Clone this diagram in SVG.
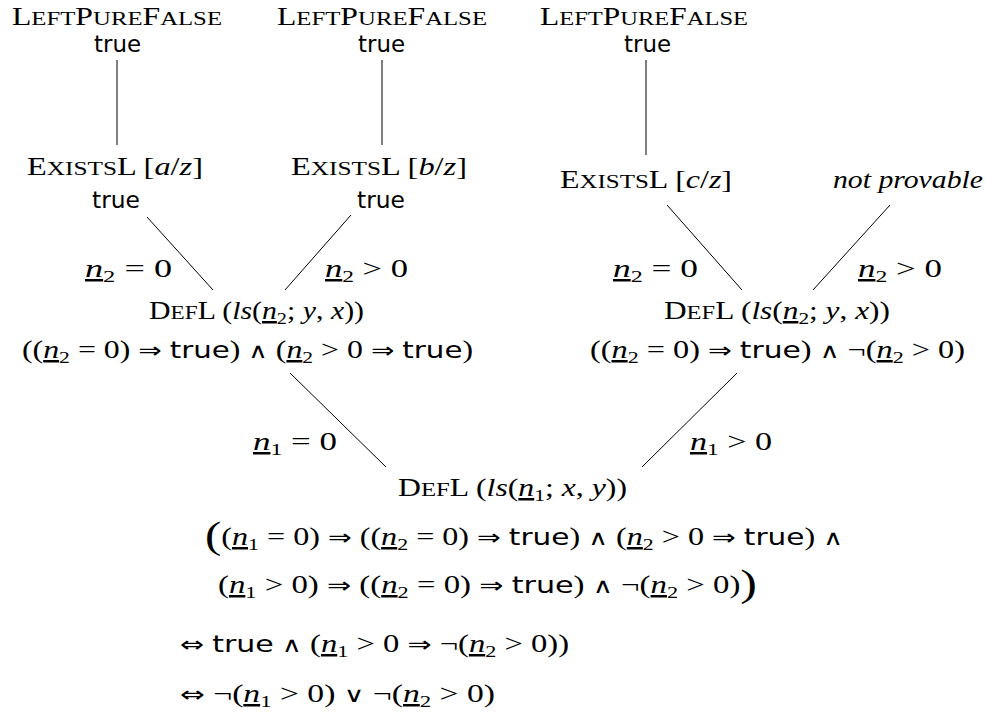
<svg xmlns="http://www.w3.org/2000/svg" width="987" height="717" viewBox="0 0 987 717">
<style>
text{font-family:"Liberation Serif","DejaVu Serif",serif;font-size:25px;fill:#000}
.sc{font-size:19.5px}
.i{font-style:italic}
.sf{font-family:"DejaVu Sans",sans-serif;font-size:23px}
.o{font-family:"DejaVu Sans",sans-serif;font-size:22px}
.w{font-family:"DejaVu Sans",sans-serif;font-size:21px}
.u{text-decoration:underline}
.sub{font-size:17px}
.big{font-size:38px}
.np{font-style:italic;font-size:25px}
.edge line{stroke:#000;stroke-width:1}
</style>
<rect width="987" height="717" fill="#fff"/>
<g class="edge" id="connectors">
<line x1="117" y1="60" x2="117" y2="145"/>
<line x1="382" y1="60" x2="382" y2="145"/>
<line x1="646" y1="60" x2="646" y2="155"/>
<line x1="147" y1="217" x2="213" y2="290"/>
<line x1="351" y1="215" x2="285" y2="290"/>
<line x1="667" y1="205" x2="742" y2="290"/>
<line x1="890" y1="205" x2="813" y2="290"/>
<line x1="290" y1="373" x2="386" y2="467"/>
<line x1="737" y1="373" x2="642" y2="467"/>
</g>
<g id="edge-labels">
<text x="85" y="277" textLength="87" lengthAdjust="spacingAndGlyphs"><tspan class="i u">n</tspan><tspan class="sub" dy="5">2</tspan><tspan dy="-5"> = 0</tspan></text>
<text x="325" y="277" textLength="83" lengthAdjust="spacingAndGlyphs"><tspan class="i u">n</tspan><tspan class="sub" dy="5">2</tspan><tspan dy="-5"> &gt; 0</tspan></text>
<text x="613" y="277" textLength="85" lengthAdjust="spacingAndGlyphs"><tspan class="i u">n</tspan><tspan class="sub" dy="5">2</tspan><tspan dy="-5"> = 0</tspan></text>
<text x="858" y="277" textLength="84" lengthAdjust="spacingAndGlyphs"><tspan class="i u">n</tspan><tspan class="sub" dy="5">2</tspan><tspan dy="-5"> &gt; 0</tspan></text>
<text x="253" y="450" textLength="84" lengthAdjust="spacingAndGlyphs"><tspan class="i u">n</tspan><tspan class="sub" dy="5">1</tspan><tspan dy="-5"> = 0</tspan></text>
<text x="690" y="450" textLength="82" lengthAdjust="spacingAndGlyphs"><tspan class="i u">n</tspan><tspan class="sub" dy="5">1</tspan><tspan dy="-5"> &gt; 0</tspan></text>
</g>
<g id="lpf1">
<text x="12" y="25" textLength="210" lengthAdjust="spacingAndGlyphs">L<tspan class="sc">EFT</tspan>P<tspan class="sc">URE</tspan>F<tspan class="sc">ALSE</tspan></text>
<text class="sf" x="94" y="52" textLength="47" lengthAdjust="spacingAndGlyphs">true</text>
</g>
<g id="lpf2">
<text x="277" y="25" textLength="210" lengthAdjust="spacingAndGlyphs">L<tspan class="sc">EFT</tspan>P<tspan class="sc">URE</tspan>F<tspan class="sc">ALSE</tspan></text>
<text class="sf" x="358" y="52" textLength="47" lengthAdjust="spacingAndGlyphs">true</text>
</g>
<g id="lpf3">
<text x="540" y="25" textLength="208" lengthAdjust="spacingAndGlyphs">L<tspan class="sc">EFT</tspan>P<tspan class="sc">URE</tspan>F<tspan class="sc">ALSE</tspan></text>
<text class="sf" x="624" y="52" textLength="47" lengthAdjust="spacingAndGlyphs">true</text>
</g>
<g id="ex1">
<text x="27" y="175" textLength="176" lengthAdjust="spacingAndGlyphs">E<tspan class="sc">XISTS</tspan>L [<tspan class="i">a</tspan>/<tspan class="i">z</tspan>]</text>
<text class="sf" x="92" y="208" textLength="48" lengthAdjust="spacingAndGlyphs">true</text>
</g>
<g id="ex2">
<text x="291" y="175" textLength="176" lengthAdjust="spacingAndGlyphs">E<tspan class="sc">XISTS</tspan>L [<tspan class="i">b</tspan>/<tspan class="i">z</tspan>]</text>
<text class="sf" x="357" y="208" textLength="48" lengthAdjust="spacingAndGlyphs">true</text>
</g>
<g id="ex3">
<text x="560" y="188" textLength="172" lengthAdjust="spacingAndGlyphs">E<tspan class="sc">XISTS</tspan>L [<tspan class="i">c</tspan>/<tspan class="i">z</tspan>]</text>
</g>
<g id="np">
<text class="np" x="833" y="188" textLength="150" lengthAdjust="spacingAndGlyphs">not provable</text>
</g>
<g id="def1">
<text x="149" y="319" textLength="215" lengthAdjust="spacingAndGlyphs">D<tspan class="sc">EF</tspan>L (<tspan class="i">ls</tspan>(<tspan class="i u">n</tspan><tspan class="sub" dy="5">2</tspan><tspan dy="-5">; </tspan><tspan class="i">y</tspan>, <tspan class="i">x</tspan>))</text>
<text x="22" y="358" textLength="451" lengthAdjust="spacingAndGlyphs">((<tspan class="i u">n</tspan><tspan class="sub" dy="5">2</tspan><tspan dy="-5"> = 0) </tspan><tspan class="o">⇒</tspan> <tspan class="sf">true</tspan>) <tspan class="w">∧</tspan> (<tspan class="i u">n</tspan><tspan class="sub" dy="5">2</tspan><tspan dy="-5"> &gt; 0 </tspan><tspan class="o">⇒</tspan> <tspan class="sf">true</tspan>)</text>
</g>
<g id="def2">
<text x="664" y="319" textLength="226" lengthAdjust="spacingAndGlyphs">D<tspan class="sc">EF</tspan>L (<tspan class="i">ls</tspan>(<tspan class="i u">n</tspan><tspan class="sub" dy="5">2</tspan><tspan dy="-5">; </tspan><tspan class="i">y</tspan>, <tspan class="i">x</tspan>))</text>
<text x="590" y="358" textLength="375" lengthAdjust="spacingAndGlyphs">((<tspan class="i u">n</tspan><tspan class="sub" dy="5">2</tspan><tspan dy="-5"> = 0) </tspan><tspan class="o">⇒</tspan> <tspan class="sf">true</tspan>) <tspan class="w">∧</tspan> ¬(<tspan class="i u">n</tspan><tspan class="sub" dy="5">2</tspan><tspan dy="-5"> &gt; 0)</tspan></text>
</g>
<g id="def0">
<text x="398" y="496" textLength="229" lengthAdjust="spacingAndGlyphs">D<tspan class="sc">EF</tspan>L (<tspan class="i">ls</tspan>(<tspan class="i u">n</tspan><tspan class="sub" dy="5">1</tspan><tspan dy="-5">; </tspan><tspan class="i">x</tspan>, <tspan class="i">y</tspan>))</text>
<text x="205" y="545" textLength="638" lengthAdjust="spacingAndGlyphs"><tspan class="big" dy="3">(</tspan><tspan dy="-3">(</tspan><tspan class="i u">n</tspan><tspan class="sub" dy="5">1</tspan><tspan dy="-5"> = 0) </tspan><tspan class="o">⇒</tspan> ((<tspan class="i u">n</tspan><tspan class="sub" dy="5">2</tspan><tspan dy="-5"> = 0) </tspan><tspan class="o">⇒</tspan> <tspan class="sf">true</tspan>) <tspan class="w">∧</tspan> (<tspan class="i u">n</tspan><tspan class="sub" dy="5">2</tspan><tspan dy="-5"> &gt; 0 </tspan><tspan class="o">⇒</tspan> <tspan class="sf">true</tspan>) <tspan class="w">∧</tspan></text>
<text x="218" y="593" textLength="539" lengthAdjust="spacingAndGlyphs">(<tspan class="i u">n</tspan><tspan class="sub" dy="5">1</tspan><tspan dy="-5"> &gt; 0) </tspan><tspan class="o">⇒</tspan> ((<tspan class="i u">n</tspan><tspan class="sub" dy="5">2</tspan><tspan dy="-5"> = 0) </tspan><tspan class="o">⇒</tspan> <tspan class="sf">true</tspan>) <tspan class="w">∧</tspan> ¬(<tspan class="i u">n</tspan><tspan class="sub" dy="5">2</tspan><tspan dy="-5"> &gt; 0)</tspan><tspan class="big" dy="3">)</tspan></text>
<text x="180" y="652" textLength="389" lengthAdjust="spacingAndGlyphs"><tspan class="o">⇔</tspan> <tspan class="sf">true</tspan> <tspan class="w">∧</tspan> (<tspan class="i u">n</tspan><tspan class="sub" dy="5">1</tspan><tspan dy="-5"> &gt; 0 </tspan><tspan class="o">⇒</tspan> ¬(<tspan class="i u">n</tspan><tspan class="sub" dy="5">2</tspan><tspan dy="-5"> &gt; 0))</tspan></text>
<text x="180" y="702" textLength="315" lengthAdjust="spacingAndGlyphs"><tspan class="o">⇔</tspan> ¬(<tspan class="i u">n</tspan><tspan class="sub" dy="5">1</tspan><tspan dy="-5"> &gt; 0) </tspan><tspan class="w">∨</tspan> ¬(<tspan class="i u">n</tspan><tspan class="sub" dy="5">2</tspan><tspan dy="-5"> &gt; 0)</tspan></text>
</g>
</svg>
